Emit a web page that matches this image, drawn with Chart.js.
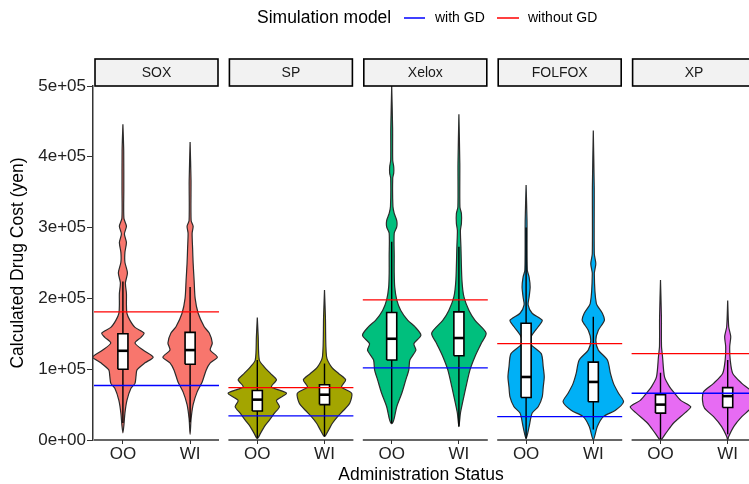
<!DOCTYPE html>
<html>
<head>
<meta charset="utf-8">
<script src="https://cdn.jsdelivr.net/npm/chart.js@4.4.1/dist/chart.umd.min.js"></script>
<style>
  html, body { margin: 0; padding: 0; background: #fff; overflow: hidden; }
</style>
</head>
<body>
<canvas id="myChart" width="749" height="484"></canvas>
<script>
//
// DATA
//
const regimens = ['SOX', 'SP', 'Xelox', 'FOLFOX', 'XP'];
const statuses = ['OO', 'WI'];
const regimenColors = ['#F8766D', '#A3A500', '#00BF7D', '#00B0F6', '#E76BF3'];

// horizontal reference lines per regimen (yen)
const costWithGD = [77000, 34000, 102000, 33000, 66000];
const costWithoutGD = [181000, 74000, 198000, 136000, 122000];

// boxplot stats, order: SOX OO, SOX WI, SP OO, SP WI, Xelox OO, Xelox WI, FOLFOX OO, FOLFOX WI, XP OO, XP WI
const boxQ1 = [100000, 107000, 41000, 50000, 113000, 119000, 60000, 54000, 38000, 46000];
const boxMedian = [126000, 127000, 57000, 64000, 143000, 144000, 89000, 82000, 50000, 62000];
const boxQ3 = [150000, 152000, 70000, 78000, 180000, 181000, 165000, 110000, 64000, 74000];
const whiskerLow = [24000, 25000, 3000, 5000, 24000, 19000, 2000, 15000, 1000, 8000];
const whiskerHigh = [224000, 216000, 113000, 108000, 280000, 273000, 300000, 174000, 95000, 113000];

const yTicks = [0, 100000, 200000, 300000, 400000, 500000];

// violin outlines, top to bottom: [cost (thousand yen), density (0..30)]
const violinSOX_OO = [[446,0],[409,0.8],[353,0.9],[313,1],[302,3.5],[291,1.5],[279,3.5],[265,2],[251,2],[236,4.5],[222,2.5],[207,3.5],[191,3.5],[179,4],[169,7],[159,12],[151,21],[145,18],[137,12],[127,20],[117,30],[109,22],[99,14],[90,13],[80,12],[73,8],[56,4],[38,2],[21,1],[10,0]];
const violinSOX_WI = [[421,0],[367,0.9],[310,1],[302,3],[292,2],[270,2.5],[250,3],[225,4],[200,5],[179,8],[160,14],[151,19],[137,22],[127,20],[117,27],[109,20],[99,16],[82,12],[68,7],[50,3],[30,1],[8,0]];
const violinSP_OO = [[173,0],[146,0.9],[113,2],[103,7],[94,13],[85,19],[75,14],[66,29],[56,19],[47,22],[38,17],[28,12],[19,7],[9,3],[2,0]];
const violinSP_WI = [[212,0],[174,0.9],[118,2],[103,7],[94,14],[85,21],[75,17],[66,27],[52,25],[42,19],[33,13],[24,8],[14,4],[5,0]];
const violinXelox_OO = [[500,0],[440,0.9],[395,1],[386,2],[377,2],[370,1],[330,1.2],[320,2.5],[310,5],[301,5],[292,2.5],[260,2.5],[236,2.5],[216,3],[198,5],[183,9],[169,16],[160,23],[148,29],[136,22],[127,24],[113,18],[99,17],[85,14],[66,10],[47,5],[28,2],[23,0]];
const violinXelox_WI = [[460,0],[391,0.9],[329,1],[320,2.5],[306,2.5],[296,1.5],[273,2],[226,3],[202,5],[183,10],[169,16],[151,27],[136,22],[118,16],[99,11],[75,7],[52,3.5],[38,1.5],[19,0]];
const violinFOLFOX_OO = [[360,0],[310,0.9],[240,1.2],[230,3],[216,4],[202,3],[191,2],[179,6],[169,16],[160,12],[146,5],[136,4],[122,15],[103,17],[89,18],[75,17],[61,16],[47,12],[38,6],[19,3],[2,0]];
const violinFOLFOX_WI = [[437,0],[357,0.9],[263,1],[249,2.5],[235,1],[193,3],[179,9],[169,11],[155,5],[141,2.5],[127,5],[113,14],[94,17],[80,20],[66,25],[54,30],[42,22],[33,10],[19,4],[0,0]];
const violinXP_OO = [[226,0],[174,0.9],[132,1],[118,2],[89,4],[75,9],[66,14],[56,20],[47,30],[38,24],[24,13],[9,5],[0,0]];
const violinXP_WI = [[197,0],[160,1],[146,3],[132,2],[113,2.5],[94,5],[80,14],[68,24],[56,25],[45,23],[33,14],[19,6],[5,1],[0,0]];

const violins = [violinSOX_OO, violinSOX_WI, violinSP_OO, violinSP_WI, violinXelox_OO, violinXelox_WI,
                 violinFOLFOX_OO, violinFOLFOX_WI, violinXP_OO, violinXP_WI];


//
// layout constants (x in category units, each facet is 2 units wide)
//
const maxHalf = 0.45;      // violin half width at density 30
const densityMax = 30;
const boxHalf = 0.075;
const panelLo = 0.57, panelHi = 2.43;

Chart.defaults.font.family = '"Liberation Sans", Arial, sans-serif';


//
// build datasets
//
let datasets = [];
violins.forEach((prof, k) => {
    const i = Math.floor(k / 2), j = k % 2;
    const cx = 2 * i + 1 + j;
    const left = prof.map(p => ({ x: cx - p[1] / densityMax * maxHalf, y: p[0] * 1000 }));
    const right = prof.slice(0, -1).reverse().map(p => ({ x: cx + p[1] / densityMax * maxHalf, y: p[0] * 1000 }));
    datasets.push({
        label: regimens[i] + ' ' + statuses[j],
        data: left.concat(right),
        fill: 'shape',
        backgroundColor: regimenColors[i],
        borderColor: '#2b2b2b',
        borderWidth: 1.2,
        tension: 0.25,
        order: 5,
    });
    // whisker
    datasets.push({
        data: [{ x: cx, y: whiskerLow[k] }, { x: cx, y: whiskerHigh[k] }],
        borderColor: '#000',
        borderWidth: 1.4,
        fill: false,
        order: 4,
    });
    // box
    datasets.push({
        data: [
            { x: cx - boxHalf, y: boxQ1[k] }, { x: cx + boxHalf, y: boxQ1[k] },
            { x: cx + boxHalf, y: boxQ3[k] }, { x: cx - boxHalf, y: boxQ3[k] },
            { x: cx - boxHalf, y: boxQ1[k] }
        ],
        fill: 'shape',
        backgroundColor: '#ffffff',
        borderColor: '#000',
        borderWidth: 1.6,
        order: 3,
    });
    // median
    datasets.push({
        data: [{ x: cx - boxHalf, y: boxMedian[k] }, { x: cx + boxHalf, y: boxMedian[k] }],
        borderColor: '#000',
        borderWidth: 2.6,
        fill: false,
        order: 2,
    });
});

regimens.forEach((r, i) => {
    datasets.push({
        label: 'without GD',
        data: [{ x: 2 * i + panelLo, y: costWithoutGD[i] }, { x: 2 * i + panelHi, y: costWithoutGD[i] }],
        borderColor: '#FF0000',
        borderWidth: 1.3,
        fill: false,
        order: 1,
    });
    datasets.push({
        label: 'with GD',
        data: [{ x: 2 * i + panelLo, y: costWithGD[i] }, { x: 2 * i + panelHi, y: costWithGD[i] }],
        borderColor: '#0000FF',
        borderWidth: 1.3,
        fill: false,
        order: 1,
    });
});

const xTicks = regimens.flatMap((r, i) => statuses.map((s, j) => 2 * i + 1 + j));


//
// facet strips, panel axis lines, legend
//
const facetDecor = {
    id: 'facetDecor',
    afterDatasetsDraw(chart) {
        const { ctx, chartArea, scales: { x } } = chart;
        ctx.save();
        ctx.strokeStyle = '#333';
        ctx.lineWidth = 1.6;
        regimens.forEach((r, i) => {
            const l = x.getPixelForValue(2 * i + panelLo);
            const rr = x.getPixelForValue(2 * i + panelHi);
            ctx.beginPath();
            ctx.moveTo(l, chartArea.bottom);
            ctx.lineTo(rr, chartArea.bottom);
            ctx.stroke();
        });
        ctx.restore();
    },
    afterDraw(chart) {
        const { ctx, chartArea, scales: { x } } = chart;
        ctx.save();
        // strips
        regimens.forEach((r, i) => {
            const l = x.getPixelForValue(2 * i + panelLo);
            const rr = x.getPixelForValue(2 * i + panelHi);
            ctx.fillStyle = '#F2F2F2';
            ctx.strokeStyle = '#000';
            ctx.lineWidth = 1.6;
            ctx.fillRect(l + 1, 59, rr - l - 2, chartArea.top - 59);
            ctx.strokeRect(l + 1, 59, rr - l - 2, chartArea.top - 59);
            ctx.fillStyle = '#1a1a1a';
            ctx.font = '14px "Liberation Sans", Arial, sans-serif';
            ctx.textAlign = 'center';
            ctx.textBaseline = 'middle';
            ctx.fillText(r, (l + rr) / 2, 73);
        });
        // legend
        ctx.textAlign = 'left';
        ctx.textBaseline = 'middle';
        ctx.fillStyle = '#000';
        ctx.font = '17.5px "Liberation Sans", Arial, sans-serif';
        ctx.fillText('Simulation model', 257, 18);
        ctx.font = '14px "Liberation Sans", Arial, sans-serif';
        ctx.lineWidth = 1.5;
        ctx.strokeStyle = '#0000FF';
        ctx.beginPath(); ctx.moveTo(404, 18); ctx.lineTo(425, 18); ctx.stroke();
        ctx.fillText('with GD', 435, 18);
        ctx.strokeStyle = '#FF0000';
        ctx.beginPath(); ctx.moveTo(497, 18); ctx.lineTo(519, 18); ctx.stroke();
        ctx.fillText('without GD', 528, 18);
        ctx.restore();
    }
};


//
// CHART
//
var myChart = new Chart(document.getElementById('myChart').getContext('2d'), {
    type: 'line',
    data: { datasets: datasets },
    plugins: [facetDecor],
    options: {
        responsive: false,
        animation: false,
        events: [],
        layout: { padding: { top: 86, left: 0, right: 0, bottom: 0 } },
        elements: { point: { radius: 0, hitRadius: 0 } },
        plugins: {
            legend: { display: false },
            tooltip: { enabled: false },
        },
        scales: {
            x: {
                type: 'linear',
                min: 0.555,
                max: 10.317,
                afterBuildTicks: s => { s.ticks = xTicks.map(v => ({ value: v })); },
                afterFit: s => { s.height = 44; },
                ticks: {
                    autoSkip: false,
                    maxRotation: 0,
                    padding: 0,
                    color: '#222',
                    font: { size: 17 },
                    callback: v => statuses[(Math.round(v) - 1) % 2],
                },
                grid: { display: true, drawOnChartArea: false, drawTicks: true, tickLength: 4, color: '#333', lineWidth: 1 },
                border: { display: false },
                title: {
                    display: true,
                    text: 'Administration Status',
                    color: '#000',
                    font: { size: 17.5, lineHeight: 1 },
                    padding: { top: 0, bottom: 0 },
                },
            },
            y: {
                min: 0,
                max: 500000,
                afterBuildTicks: s => { s.ticks = yTicks.map(v => ({ value: v })); },
                afterFit: s => { s.width = 93; },
                ticks: {
                    color: '#222',
                    font: { size: 17 },
                    padding: 1,
                    callback: v => v === 0 ? '0e+00' : (v / 100000) + 'e+05',
                },
                grid: { display: true, drawOnChartArea: false, tickLength: 6, color: '#333', lineWidth: 1 },
                border: { display: true, color: '#333', width: 1.5 },
                title: {
                    display: true,
                    text: 'Calculated Drug Cost (yen)',
                    color: '#000',
                    font: { size: 17.5, lineHeight: 1.2 },
                    padding: { top: 8, bottom: 0 },
                },
            },
        },
    },
});
</script>
</body>
</html>
